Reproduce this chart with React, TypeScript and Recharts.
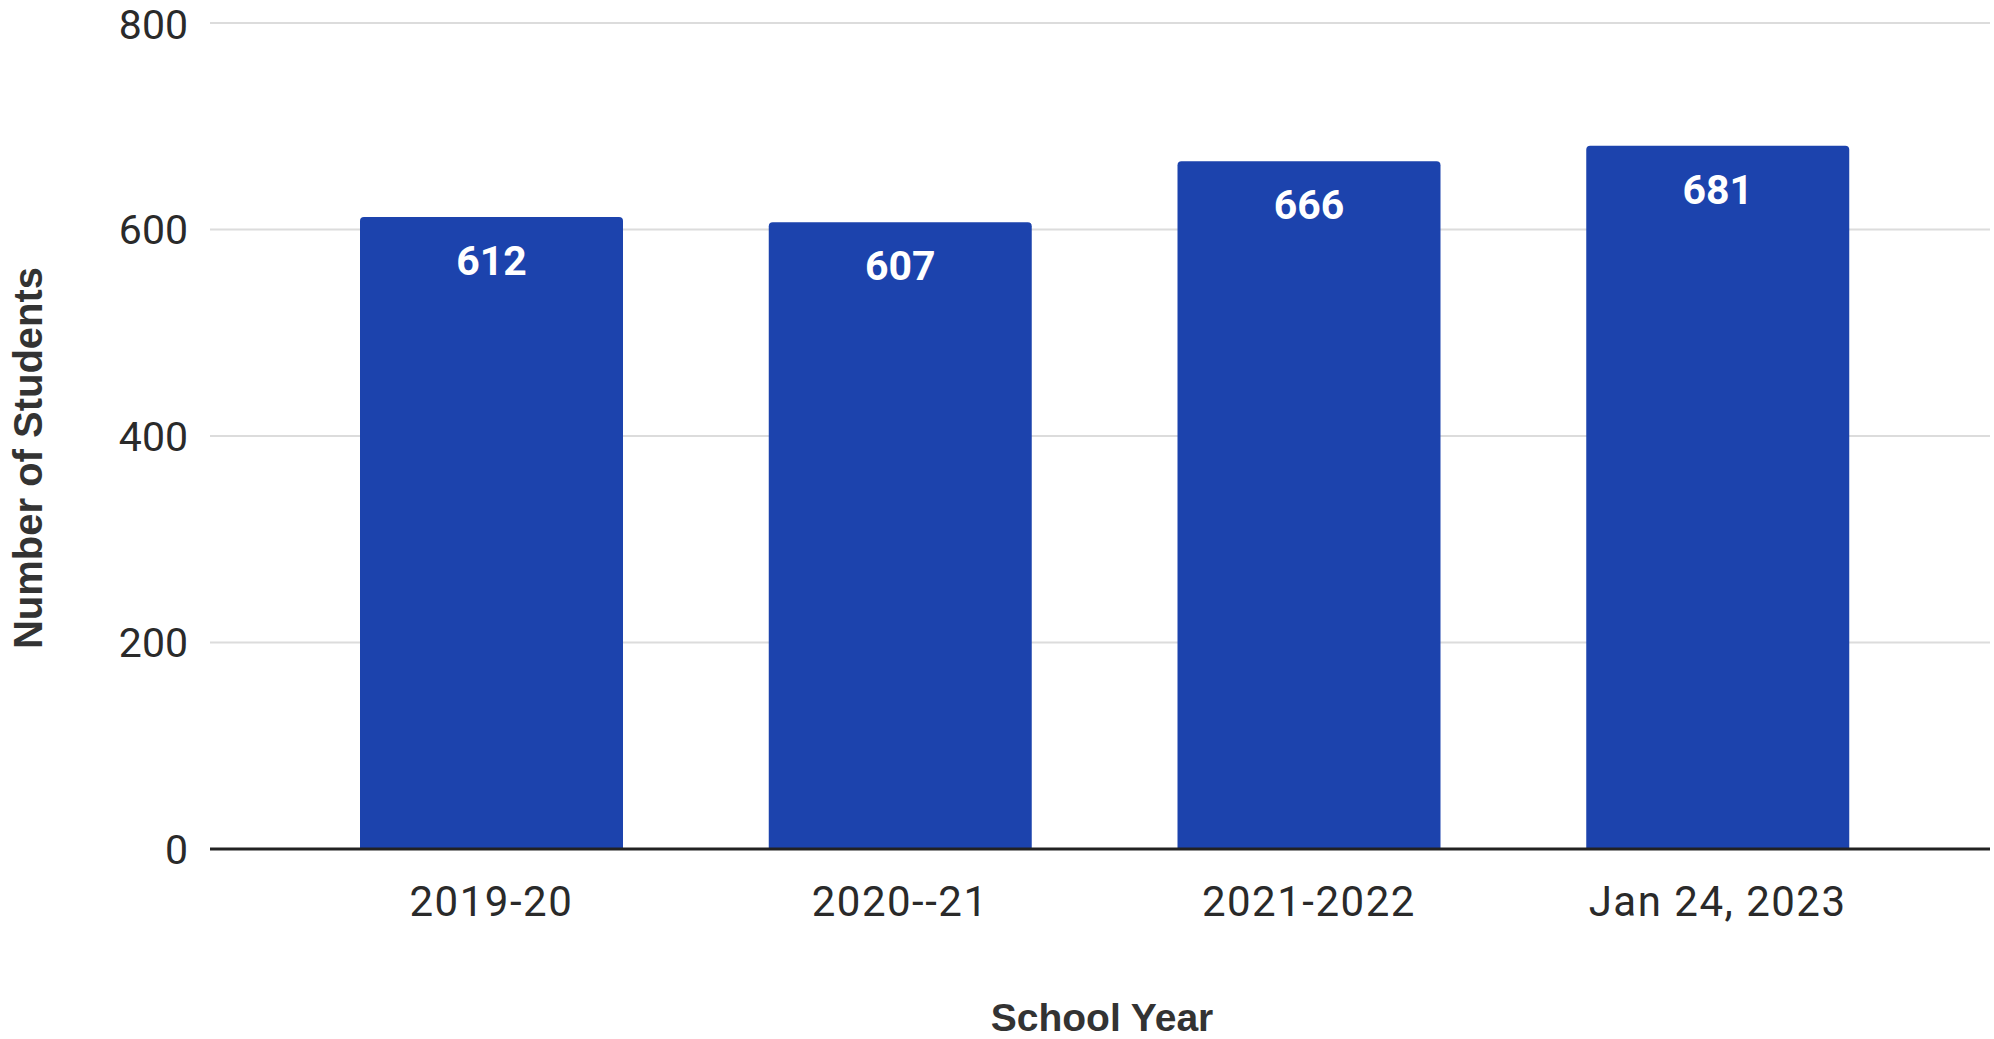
import React from 'react';
import { BarChart, Bar, XAxis, YAxis, CartesianGrid, LabelList, Label } from 'recharts';

const schoolYears = ['2019-20', '2020--21', '2021-2022', 'Jan 24, 2023'];
const studentCounts = [612, 607, 666, 681];
const yTicks = [0, 200, 400, 600, 800];

const data = schoolYears.map((year, i) => ({ year, students: studentCounts[i] }));

const YTitle = (props: any) => {
  const { viewBox } = props;
  const x = 28;
  const y = viewBox.y + viewBox.height / 2 + 22;
  return (
    <text
      x={x}
      y={y}
      transform={`rotate(-90 ${x} ${y})`}
      textAnchor="middle"
      dominantBaseline="central"
      fontFamily="'Liberation Sans', Arial, sans-serif"
      fontWeight={700}
      fontSize={40}
      fill="#333"
    >
      Number of Students
    </text>
  );
};

const XTitle = (props: any) => {
  const { viewBox } = props;
  return (
    <text
      x={viewBox.x + viewBox.width / 2 + 2}
      y={1031}
      textAnchor="middle"
      fontFamily="'Liberation Sans', Arial, sans-serif"
      fontWeight={700}
      fontSize={39}
      fill="#333"
    >
      School Year
    </text>
  );
};

export default function App() {
  return (
    <div style={{ position: 'absolute', top: 0, left: 0, width: 1994, height: 1039, background: '#fff' }}>
      <BarChart
        width={1994}
        height={1039}
        data={data}
        margin={{ top: 23, right: 4, left: 0, bottom: 0 }}
      >
        <CartesianGrid horizontal vertical={false} stroke="#dcdcdc" strokeWidth={2} />
        <XAxis
          dataKey="year"
          height={190}
          padding={{ left: 77, right: 68 }}
          tickLine={false}
          tickSize={0}
          tickMargin={37}
          axisLine={{ stroke: '#222', strokeWidth: 3 }}
          tick={{ fill: '#2a2a2a', fontSize: 42, fontFamily: 'Roboto, sans-serif', letterSpacing: 1.5 }}
          interval={0}
        >
          <Label content={<XTitle />} />
        </XAxis>
        <YAxis
          width={210}
          domain={[0, 800]}
          ticks={yTicks}
          tickLine={false}
          tickSize={0}
          tickMargin={22}
          axisLine={false}
          tick={{ fill: '#2a2a2a', fontSize: 41, fontFamily: 'Roboto, sans-serif' }}
        >
          <Label content={<YTitle />} />
        </YAxis>
        <Bar dataKey="students" fill="#1c43ad" barSize={263} radius={[4, 4, 0, 0]} isAnimationActive={false}>
          <LabelList
            dataKey="students"
            position="insideTop"
            offset={29}
            fill="#ffffff"
            fontSize={41}
            fontWeight={700}
            fontFamily="Roboto, sans-serif"
          />
        </Bar>
      </BarChart>
    </div>
  );
}
